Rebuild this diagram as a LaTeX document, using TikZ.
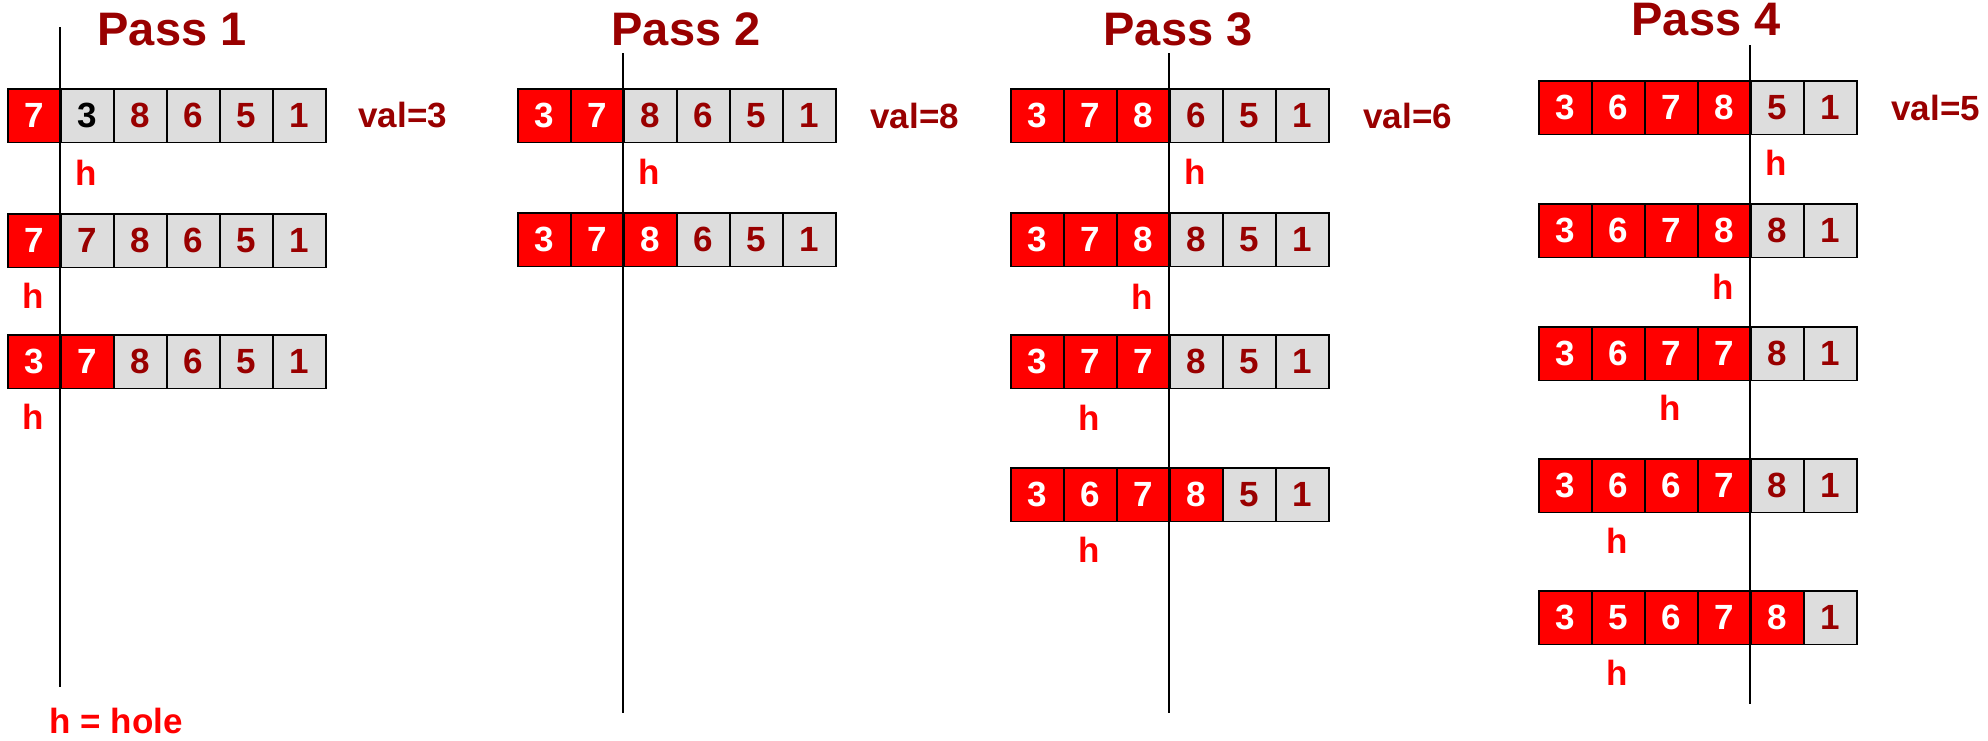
\documentclass[tikz,border=0pt]{standalone}
\usepackage{fontspec}
\setmainfont{Liberation Sans}
\definecolor{dred}{RGB}{153,0,0}
\definecolor{cellgray}{RGB}{221,221,221}
\definecolor{hred}{RGB}{255,0,0}
\newcommand\cellrow[4]{%
  \foreach \s/\v [count=\i] in {#4} {
    \node[\s] (#1c\i) at ({#2+(\i-1)*53},#3) {\v};
  }}
\begin{document}
\begin{tikzpicture}[x=0.5pt,y=-0.5pt,
  cellbase/.style={draw=black,line width=0.8pt,minimum width=26.5pt,minimum height=26.75pt,inner sep=0pt,anchor=north west,font=\fontsize{17.5}{20}\bfseries\selectfont},
  rc/.style={cellbase,fill=hred,text=white},
  gc/.style={cellbase,fill=cellgray,text=dred},
  kc/.style={cellbase,fill=cellgray,text=black},
  hlab/.style={text=hred,font=\fontsize{17.5}{20}\bfseries\selectfont,inner sep=0pt},
  vallab/.style={text=dred,font=\fontsize{17.5}{20}\bfseries\selectfont,anchor=west,inner sep=0pt},
  passtitle/.style={text=dred,font=\fontsize{23.5}{28}\bfseries\selectfont,anchor=base,inner sep=0pt},
  vline/.style={line width=0.7pt,draw=black}]
\useasboundingbox (0,0) rectangle (1988,740);

% titles
\node[passtitle] (t1) at (172,45) {Pass 1};
\node[passtitle] (t2) at (686,45) {Pass 2};
\node[passtitle] (t3) at (1178,45) {Pass 3};
\node[passtitle] (t4) at (1706,35) {Pass 4};

% Pass 1
\cellrow{p1r1}{7}{88}{rc/7,kc/3,gc/8,gc/6,gc/5,gc/1}
\cellrow{p1r2}{7}{213}{rc/7,gc/7,gc/8,gc/6,gc/5,gc/1}
\cellrow{p1r3}{7}{334}{rc/3,rc/7,gc/8,gc/6,gc/5,gc/1}
\node[hlab] (p1h1) at (86.5,173) {h};
\node[hlab] (p1h2) at (33.5,296) {h};
\node[hlab] (p1h3) at (33.5,417) {h};
\node[vallab] (p1val) at (358,115) {val=3};
\node[hlab] (legend) at (116,721) {h = hole};

% Pass 2
\cellrow{p2r1}{517}{88}{rc/3,rc/7,gc/8,gc/6,gc/5,gc/1}
\cellrow{p2r2}{517}{212}{rc/3,rc/7,rc/8,gc/6,gc/5,gc/1}
\node[hlab] (p2h1) at (649.5,172) {h};
\node[vallab] (p2val) at (870,116) {val=8};

% Pass 3
\cellrow{p3r1}{1010}{88}{rc/3,rc/7,rc/8,gc/6,gc/5,gc/1}
\cellrow{p3r2}{1010}{212}{rc/3,rc/7,rc/8,gc/8,gc/5,gc/1}
\cellrow{p3r3}{1010}{334}{rc/3,rc/7,rc/7,gc/8,gc/5,gc/1}
\cellrow{p3r4}{1010}{467}{rc/3,rc/6,rc/7,rc/8,gc/5,gc/1}
\node[hlab] (p3h1) at (1195.5,172) {h};
\node[hlab] (p3h2) at (1142.5,297) {h};
\node[hlab] (p3h3) at (1089.5,418) {h};
\node[hlab] (p3h4) at (1089.5,550) {h};
\node[vallab] (p3val) at (1363,116) {val=6};

% Pass 4
\cellrow{p4r1}{1538}{80}{rc/3,rc/6,rc/7,rc/8,gc/5,gc/1}
\cellrow{p4r2}{1538}{203}{rc/3,rc/6,rc/7,rc/8,gc/8,gc/1}
\cellrow{p4r3}{1538}{326}{rc/3,rc/6,rc/7,rc/7,gc/8,gc/1}
\cellrow{p4r4}{1538}{458}{rc/3,rc/6,rc/6,rc/7,gc/8,gc/1}
\cellrow{p4r5}{1538}{590}{rc/3,rc/5,rc/6,rc/7,rc/8,gc/1}
\node[hlab] (p4h1) at (1776.5,163) {h};
\node[hlab] (p4h2) at (1723.5,287) {h};
\node[hlab] (p4h3) at (1670.5,408) {h};
\node[hlab] (p4h4) at (1617.5,541) {h};
\node[hlab] (p4h5) at (1617.5,673) {h};
\node[vallab] (p4val) at (1891,108) {val=5};

% vertical divider lines
\coordinate (v1t) at (60,27);   \coordinate (v1b) at (60,687);
\coordinate (v2t) at (623,53);  \coordinate (v2b) at (623,713);
\coordinate (v3t) at (1169,53); \coordinate (v3b) at (1169,713);
\coordinate (v4t) at (1750,45); \coordinate (v4b) at (1750,704);
\draw[vline] (v1t) -- (v1b);
\draw[vline] (v2t) -- (v2b);
\draw[vline] (v3t) -- (v3b);
\draw[vline] (v4t) -- (v4b);
\end{tikzpicture}
\end{document}
